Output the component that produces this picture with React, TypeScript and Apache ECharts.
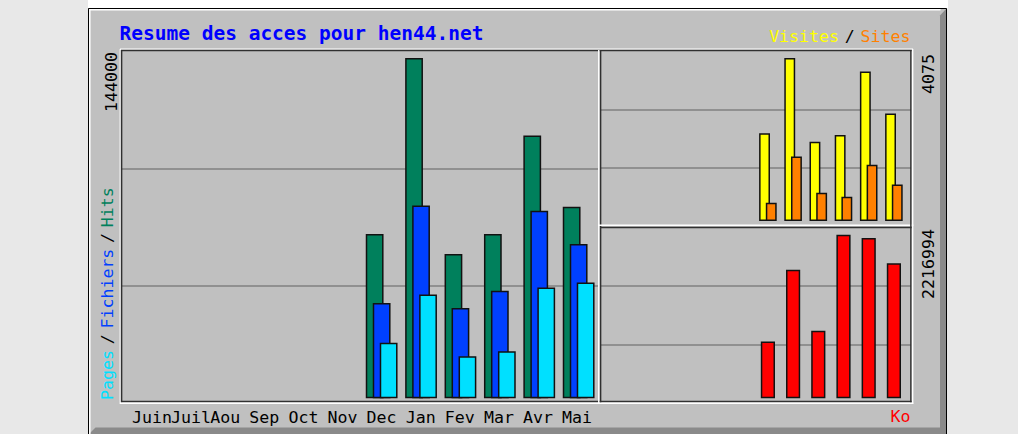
import React, { useEffect, useRef } from "react";
import * as echarts from "echarts";

const months = ["Juin", "Juil", "Aou", "Sep", "Oct", "Nov", "Dec", "Jan", "Fev", "Mar", "Avr", "Mai"];
const hits = [null, null, null, null, null, null, 69530, 144000, 61100, 69530, 111250, 81030];
const files = [null, null, null, null, null, null, 40330, 81630, 38220, 45510, 79350, 65320];
const pages = [null, null, null, null, null, null, 23470, 43950, 17830, 19930, 46900, 49010];
const visits = [null, null, null, null, null, null, 2191, 4075, 1983, 2149, 3736, 2687];
const sites = [null, null, null, null, null, null, 456, 1611, 704, 605, 1406, 910];
const kbytes = [null, null, null, null, null, null, 769900, 1742700, 913700, 2216994, 2172650, 1831400];
const hitsMax = 144000;
const visitsMax = 4075;
const kbytesMax = 2216994;
const titleText = "Resume des acces pour hen44.net";

const MONO = "'DejaVu Sans Mono', monospace";
const SMALL = 16.6;
const DARK = "#303030";
const WHITE = "#ffffff";

function ln(x1: number, y1: number, x2: number, y2: number, stroke: string, lineWidth: number) {
  return { type: "line", z: 5, shape: { x1, y1, x2, y2 }, style: { stroke, lineWidth } };
}

export default function App() {
  const ref = useRef<HTMLDivElement>(null);
  useEffect(() => {
    if (!ref.current) return;
    const chart = echarts.init(ref.current, undefined, { renderer: "svg" });
    const border = { borderColor: "#111", borderWidth: 1.5 };
    const hiddenCat = (gridIndex: number) => ({ type: "category", gridIndex, data: months, show: false });
    const frameY = (gridIndex: number) => ({
      type: "value",
      gridIndex,
      min: 0,
      max: 3,
      interval: 1,
      axisLine: { show: false },
      axisTick: { show: false },
      axisLabel: { show: false },
      splitLine: { show: true, showMinLine: false, showMaxLine: false, lineStyle: { color: "#808080", width: 1.5 } },
    });
    const option: any = {
      animation: false,
      backgroundColor: "#e8e8e8",
      grid: [
        { left: 125.55, top: 58, width: 472.8, height: 340.3 },
        { left: 604.1, top: 58, width: 302.4, height: 163 },
        { left: 604.1, top: 234.7, width: 302.4, height: 163.6 },
        { left: 122, top: 51, width: 476, height: 352.5 },
        { left: 601, top: 51, width: 310, height: 175 },
        { left: 601, top: 227.5, width: 310, height: 176 },
        { left: 112.45, top: 300, width: 469.2, height: 100 },
      ],
      xAxis: [
        hiddenCat(0),
        hiddenCat(1),
        hiddenCat(2),
        { type: "value", gridIndex: 3, show: false },
        { type: "value", gridIndex: 4, show: false },
        { type: "value", gridIndex: 5, show: false },
        {
          type: "category",
          gridIndex: 6,
          data: months,
          axisLine: { show: false },
          axisTick: { show: false },
          axisLabel: { interval: 0, align: "left", margin: 8.5, fontFamily: MONO, fontSize: SMALL, color: "#000" },
        },
      ],
      yAxis: [
        { type: "value", gridIndex: 0, min: 0, max: hitsMax, show: false },
        { type: "value", gridIndex: 1, min: 0, max: visitsMax, show: false },
        { type: "value", gridIndex: 2, min: 0, max: kbytesMax, show: false },
        frameY(3),
        frameY(4),
        frameY(5),
        { type: "value", gridIndex: 6, show: false },
      ],
      series: [
        { type: "bar", name: "Hits", xAxisIndex: 0, yAxisIndex: 0, data: hits, barWidth: 17.8, barGap: "-60.7%", itemStyle: { color: "#00805c", ...border } },
        { type: "bar", name: "Fichiers", xAxisIndex: 0, yAxisIndex: 0, data: files, barWidth: 17.8, barGap: "-60.7%", itemStyle: { color: "#0040ff", ...border } },
        { type: "bar", name: "Pages", xAxisIndex: 0, yAxisIndex: 0, data: pages, barWidth: 17.8, barGap: "-60.7%", itemStyle: { color: "#00e0ff", ...border } },
        { type: "bar", name: "Visites", xAxisIndex: 1, yAxisIndex: 1, data: visits, barWidth: 10.9, barGap: "-38.5%", itemStyle: { color: "#ffff00", ...border } },
        { type: "bar", name: "Sites", xAxisIndex: 1, yAxisIndex: 1, data: sites, barWidth: 10.9, barGap: "-38.5%", itemStyle: { color: "#ff8000", ...border } },
        { type: "bar", name: "Ko", xAxisIndex: 2, yAxisIndex: 2, data: kbytes, barWidth: 14.2, itemStyle: { color: "#ff0000", ...border } },
      ],
      graphic: {
        elements: [
          { type: "rect", z: -2, shape: { x: 88, y: 0, width: 860, height: 8.5 }, style: { fill: "#ffffff" } },
          { type: "rect", z: -2, shape: { x: 88, y: 8, width: 859, height: 430 }, style: { fill: "#c0c0c0" } },
          { type: "polygon", z: -1, shape: { points: [[940, 15.5], [946, 9], [946, 434], [940, 434]] }, style: { fill: "#8a8a8a" } },
          { type: "polygon", z: -1, shape: { points: [[89, 434], [95.5, 427.5], [940, 427.5], [940, 434]] }, style: { fill: "#8a8a8a" } },
          { type: "polyline", z: -1, shape: { points: [[89.8, 434], [89.8, 9.8], [940.5, 9.8]] }, style: { stroke: "#ffffff", lineWidth: 1.5, fill: null } },
          { type: "polyline", z: 5, shape: { points: [[88.5, 434], [88.5, 8.5], [946.5, 8.5], [946.5, 434]] }, style: { stroke: "#000", lineWidth: 1, fill: null } },
          ln(120, 49.2, 913, 49.2, WHITE, 1.2),
          ln(120.2, 49, 120.2, 404, WHITE, 1.2),
          ln(121, 50.6, 912, 50.6, DARK, 1.5),
          ln(121.6, 50, 121.6, 402.3, DARK, 1.5),
          ln(121, 401.6, 912, 401.6, DARK, 1.5),
          ln(120, 403.2, 913.3, 403.2, WHITE, 1.5),
          ln(598.8, 50, 598.8, 403, WHITE, 1.5),
          ln(600.6, 50, 600.6, 402.3, DARK, 1.5),
          ln(598, 225.2, 913.3, 225.2, WHITE, 1.5),
          ln(600, 227.6, 912, 227.6, DARK, 1.5),
          ln(910.9, 50, 910.9, 402.3, DARK, 1.5),
          ln(912.6, 49, 912.6, 404, WHITE, 1.5),
          {
            type: "text",
            z: 6,
            x: 119.5,
            y: 33.2,
            style: { text: titleText, align: "left", verticalAlign: "middle", fill: "#0000ff", fontFamily: MONO, fontWeight: "bold", fontSize: 19.5 },
          },
          {
            type: "text",
            z: 6,
            x: 111,
            y: 52,
            rotation: Math.PI / 2,
            style: { text: String(hitsMax), align: "right", verticalAlign: "middle", fill: "#000", fontFamily: MONO, fontSize: SMALL },
          },
          {
            type: "text",
            z: 6,
            x: 107,
            y: 400,
            rotation: Math.PI / 2,
            style: {
              text: "{p|Pages}{s|/}{f|Fichiers}{s|/}{h|Hits}",
              align: "left",
              verticalAlign: "middle",
              fontFamily: MONO,
              fontSize: SMALL,
              rich: {
                p: { fill: "#00e0ff", fontFamily: MONO, fontSize: SMALL },
                f: { fill: "#0040ff", fontFamily: MONO, fontSize: SMALL },
                h: { fill: "#00805c", fontFamily: MONO, fontSize: SMALL },
                s: { fill: "#000", fontFamily: MONO, fontSize: SMALL, width: 21.5, align: "center" },
              },
            },
          },
          {
            type: "text",
            z: 6,
            x: 928.3,
            y: 54,
            rotation: Math.PI / 2,
            style: { text: String(visitsMax), align: "right", verticalAlign: "middle", fill: "#000", fontFamily: MONO, fontSize: SMALL },
          },
          {
            type: "text",
            z: 6,
            x: 928.3,
            y: 229,
            rotation: Math.PI / 2,
            style: { text: String(kbytesMax), align: "right", verticalAlign: "middle", fill: "#000", fontFamily: MONO, fontSize: SMALL },
          },
          {
            type: "text",
            z: 6,
            x: 910.5,
            y: 36.7,
            style: {
              text: "{v|Visites}{s|/}{t|Sites}",
              align: "right",
              verticalAlign: "middle",
              fontFamily: MONO,
              fontSize: SMALL,
              rich: {
                v: { fill: "#ffff00", fontFamily: MONO, fontSize: SMALL },
                t: { fill: "#ff8000", fontFamily: MONO, fontSize: SMALL },
                s: { fill: "#000", fontFamily: MONO, fontSize: SMALL, width: 21.5, align: "center" },
              },
            },
          },
          {
            type: "text",
            z: 6,
            x: 910.5,
            y: 416.7,
            style: { text: "Ko", align: "right", verticalAlign: "middle", fill: "#ff0000", fontFamily: MONO, fontSize: SMALL },
          },
        ],
      },
    };
    chart.setOption(option);
    return () => chart.dispose();
  }, []);
  return <div ref={ref} style={{ position: "fixed", left: 0, top: 0, width: 1018, height: 434 }} />;
}
